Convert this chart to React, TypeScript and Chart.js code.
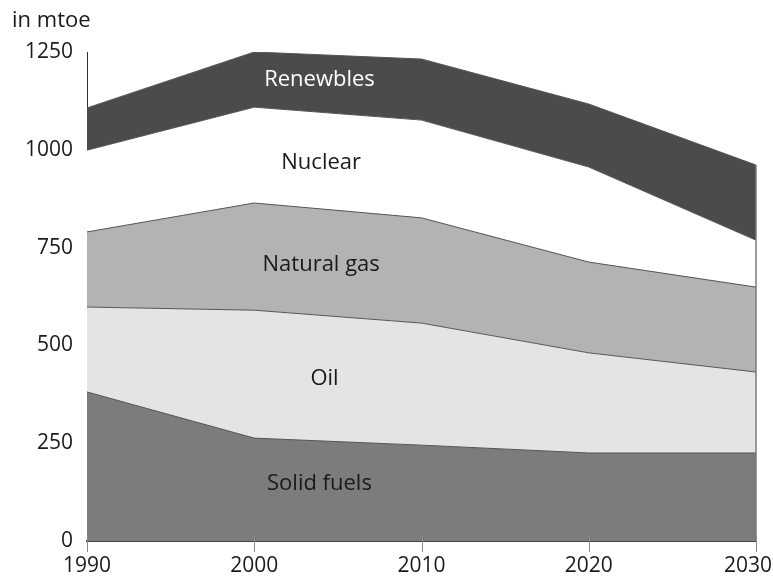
import React, { useEffect, useRef } from "react";
import { Chart, registerables } from "chart.js";

Chart.register(...registerables);

const years = [1990, 2000, 2010, 2020, 2030];
const solidFuels = [381, 263, 245, 225, 225];
const oil = [217, 327, 312, 256, 207];
const naturalGas = [192, 274, 269, 232, 217];
const nuclear = [209, 245, 250, 243, 120];
const renewables = [108, 141, 156, 161, 192];

const seriesNames = ["Solid fuels", "Oil", "Natural gas", "Nuclear", "Renewbles"];
const seriesColors = ["#7c7c7c", "#e4e4e4", "#b3b3b3", "#ffffff", "#4b4b4b"];
const labelColors = ["#1a1a1a", "#1a1a1a", "#1a1a1a", "#1a1a1a", "#ffffff"];
const labelYears = [2003.9, 2004.2, 2004.0, 2004.0, 2003.9];
const labelValues = [146, 414, 705, 966, 1178];

const yTicks = [0, 250, 500, 750, 1000, 1250];
const unitLabel = "in mtoe";
const FONT = "'Open Sans', 'Noto Sans', sans-serif";

const overlayPlugin = {
  id: "overlay",
  afterDatasetsDraw(chart: any) {
    const ctx = chart.ctx;
    const xs = chart.scales.x;
    const ys = chart.scales.y;
    ctx.save();
    const lastIdx = years.length - 1;
    const total =
      solidFuels[lastIdx] + oil[lastIdx] + naturalGas[lastIdx] + nuclear[lastIdx] + renewables[lastIdx];
    const xr = xs.getPixelForValue(years[lastIdx]);
    ctx.strokeStyle = "#7a7a7a";
    ctx.lineWidth = 1.5;
    ctx.beginPath();
    ctx.moveTo(xr, ys.getPixelForValue(total));
    ctx.lineTo(xr, ys.getPixelForValue(0));
    ctx.stroke();
    ctx.font = `22px ${FONT}`;
    ctx.textAlign = "center";
    ctx.textBaseline = "middle";
    for (let i = 0; i < seriesNames.length; i++) {
      ctx.fillStyle = labelColors[i];
      ctx.fillText(seriesNames[i], xs.getPixelForValue(labelYears[i]), ys.getPixelForValue(labelValues[i]));
    }
    ctx.restore();
  },
  afterDraw(chart: any) {
    const ctx = chart.ctx;
    const xs = chart.scales.x;
    const area = chart.chartArea;
    ctx.save();
    ctx.strokeStyle = "#8a8a8a";
    ctx.lineWidth = 1;
    ctx.font = `21px ${FONT}`;
    ctx.fillStyle = "#1a1a1a";
    ctx.textBaseline = "middle";
    ctx.textAlign = "center";
    xs.ticks.forEach((t: any) => {
      const x = Math.round(xs.getPixelForValue(t.value)) + 0.5;
      ctx.beginPath();
      ctx.moveTo(x, area.bottom - 5);
      ctx.lineTo(x, area.bottom + 11);
      ctx.stroke();
      const label = String(t.value);
      const w = ctx.measureText(label).width;
      let cx = xs.getPixelForValue(t.value);
      if (cx + w / 2 > chart.width - 1) cx = chart.width - 1 - w / 2;
      ctx.fillText(label, cx, area.bottom + 25);
    });
    ctx.textAlign = "left";
    ctx.textBaseline = "alphabetic";
    ctx.font = `22px ${FONT}`;
    ctx.fillText(unitLabel, 12, 27);
    ctx.restore();
  },
};

export default function App() {
  const ref = useRef<HTMLCanvasElement | null>(null);
  useEffect(() => {
    if (!ref.current) return;
    const series = [solidFuels, oil, naturalGas, nuclear, renewables];
    const chart = new Chart(ref.current, {
      type: "line",
      data: {
        datasets: series.map((s, i) => ({
          label: seriesNames[i],
          data: s.map((v, j) => ({ x: years[j], y: v })),
          backgroundColor: seriesColors[i],
          borderColor: "#555555",
          borderWidth: 1,
          pointRadius: 0,
          tension: 0,
          fill: i === 0 ? "origin" : "-1",
        })),
      },
      options: {
        animation: false,
        responsive: false,
        devicePixelRatio: 1,
        layout: { padding: { top: 52, right: 17, left: 0, bottom: 0 } },
        plugins: { legend: { display: false }, tooltip: { enabled: false }, title: { display: false } },
        scales: {
          x: {
            type: "linear",
            min: years[0],
            max: years[years.length - 1],
            ticks: { display: false, stepSize: 10 },
            grid: { display: false, drawTicks: false },
            border: { display: true, color: "#444444", width: 2 },
            afterFit: (s: any) => {
              s.height = 40;
              s.paddingLeft = 0;
              s.paddingRight = 0;
            },
          },
          y: {
            stacked: true,
            min: 0,
            max: 1250,
            afterBuildTicks: (s: any) => {
              s.ticks = yTicks.map((v) => ({ value: v }));
            },
            ticks: {
              padding: 14,
              color: "#1a1a1a",
              font: { family: FONT, size: 21 },
              callback: (v: any) => String(v),
            },
            grid: { display: false, drawTicks: false },
            border: { display: true, color: "#333333", width: 1 },
            afterFit: (s: any) => {
              s.width = 87;
              s.paddingTop = 0;
              s.paddingBottom = 0;
            },
          },
        },
      },
      plugins: [overlayPlugin],
    });
    return () => chart.destroy();
  }, []);
  return (
    <canvas
      ref={ref}
      width={773}
      height={581}
      style={{ position: "fixed", left: 0, top: 0, width: 773, height: 581, background: "#fff" }}
    />
  );
}
